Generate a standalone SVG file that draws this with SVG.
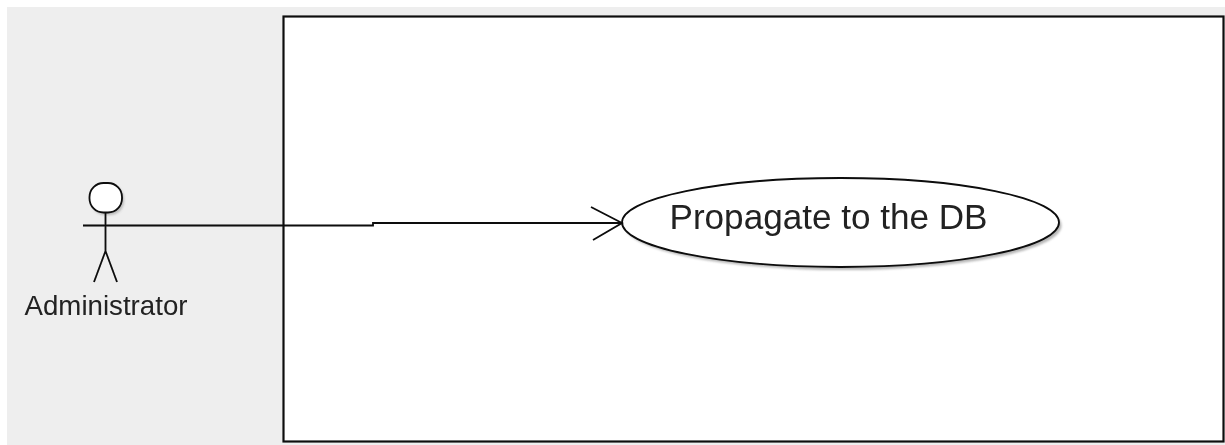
<svg xmlns="http://www.w3.org/2000/svg" width="1225" height="445" viewBox="0 0 1225 445">
<defs>
<filter id="soft" x="-5%" y="-5%" width="110%" height="110%"><feGaussianBlur stdDeviation="0.5"/></filter>
<filter id="shadow" x="-10%" y="-10%" width="120%" height="120%"><feGaussianBlur stdDeviation="1.2"/></filter>
</defs>
<style>
.s{fill:none;stroke:#0a0a0a;stroke-width:1.8}
.t{font-family:"Liberation Sans",Arial,sans-serif;fill:#222}
</style>
<rect width="1225" height="445" fill="#fff"/>
<rect id="background" x="7" y="7" width="1218" height="438" fill="#eeeeee"/>
<g filter="url(#soft)">
<g id="boundary"><rect x="283.500" y="16.500" width="940" height="425" fill="#fff" stroke="#111" stroke-width="2.200"/></g>
<g id="actor">
<rect x="91" y="185" width="33" height="30" rx="14" fill="#999" opacity=".6" filter="url(#shadow)"/>
<path d="M85 227.500H132" fill="none" stroke="#999" stroke-width="2" opacity=".6" filter="url(#shadow)"/>
<rect x="89.500" y="183" width="32.500" height="29.500" rx="14" fill="#fff" stroke="#0a0a0a" stroke-width="1.800"/>
<path class="s" d="M105.500 212.500V251M105.500 251L94 282M105.500 251L117 282"/>
<text class="t" x="106" y="315" font-size="27.500" text-anchor="middle" textLength="163" lengthAdjust="spacingAndGlyphs">Administrator</text>
</g>
<g id="usecase">
<ellipse cx="843" cy="225.500" rx="218.500" ry="44.500" fill="#999" opacity=".7" filter="url(#shadow)"/>
<ellipse cx="840.500" cy="222.500" rx="218.500" ry="44.500" fill="#fff" stroke="#0a0a0a" stroke-width="1.800"/>
<text class="t" x="828.500" y="229" font-size="35" text-anchor="middle" textLength="318" lengthAdjust="spacingAndGlyphs">Propagate to the DB</text>
</g>
<g id="connectors">
<path class="s" d="M83 225.500H373V223H622"/>
<path class="s" d="M591 207L622 223L593 240"/>
</g>
</g>
</svg>
